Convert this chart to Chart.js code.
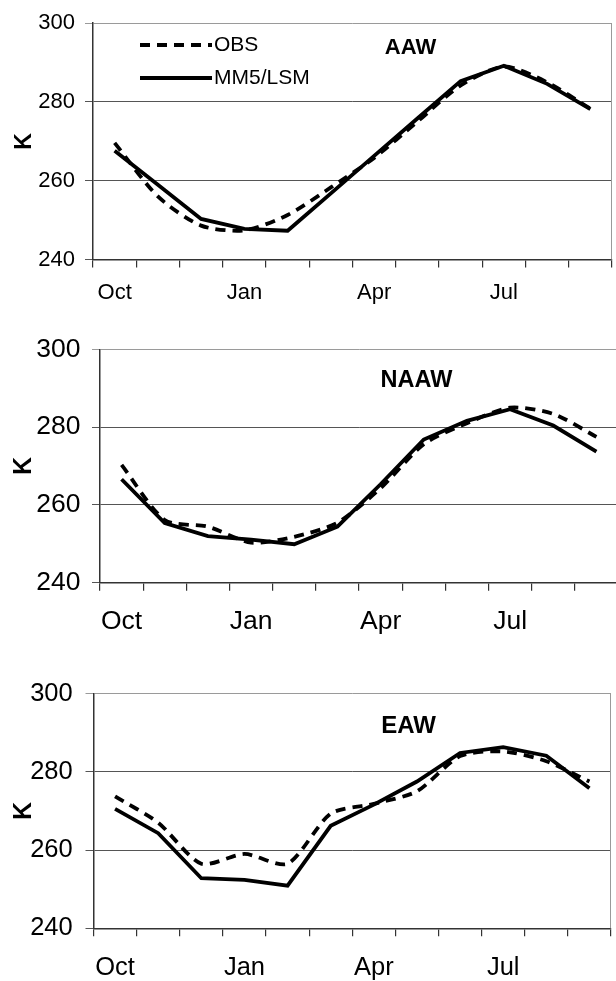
<!DOCTYPE html>
<html>
<head>
<meta charset="utf-8">
<script src="https://cdn.jsdelivr.net/npm/chart.js@4.4.1/dist/chart.umd.min.js"></script>
<style>
  html, body { margin: 0; padding: 0; background: #fff; width: 616px; height: 981px; overflow: hidden; position: relative; }
  canvas { position: absolute; left: 0; }
</style>
</head>
<body>
<canvas id="c1"></canvas>
<canvas id="c2"></canvas>
<canvas id="c3"></canvas>
<script>
// Monthly mean temperature (K), October through September
const months = ['Oct', 'Nov', 'Dec', 'Jan', 'Feb', 'Mar', 'Apr', 'May', 'Jun', 'Jul', 'Aug', 'Sep'];
const labeledMonths = ['Oct', 'Jan', 'Apr', 'Jul'];
const yTicks = [240, 260, 280, 300];
const seriesNames = ['OBS', 'MM5/LSM'];

const aawObs   = [269.6, 256.0, 248.6, 247.4, 251.3, 258.3, 265.8, 275.0, 284.2, 289.0, 285.0, 278.3];
const aawModel = [267.6, 259.0, 250.3, 247.8, 247.3, 256.8, 266.3, 275.8, 285.3, 289.2, 284.6, 278.2];

const naawObs   = [270.3, 256.1, 254.4, 250.3, 251.8, 255.4, 264.3, 275.6, 281.0, 285.0, 283.4, 277.5];
const naawModel = [266.6, 255.3, 252.0, 251.1, 249.9, 254.4, 265.3, 276.8, 281.6, 284.6, 280.4, 273.7];

const eawObs   = [273.7, 267.0, 256.5, 259.0, 256.5, 269.3, 271.8, 275.0, 284.0, 285.2, 282.7, 277.5];
const eawModel = [270.5, 264.3, 252.8, 252.4, 250.9, 266.2, 271.6, 277.5, 284.8, 286.3, 284.1, 275.8];

const FONT = "'Liberation Sans', Arial, Helvetica, sans-serif";

// Per-panel layout: canvas placement, plot box and text sizes
const panels = [
  { id: 'c1', name: 'AAW', obs: aawObs, model: aawModel,
    top: 0, width: 616, height: 320,
    area: { left: 93, right: 612, top: 19.5, bottom: 259.5 },
    tickFont: 22, yPad: 10, xPad: 12, kFont: 23, kPad: 10.5,
    titleFont: 22, titleX: 410.5, titleY: 47.5, legend: true },
  { id: 'c2', name: 'NAAW', obs: naawObs, model: naawModel,
    top: 320, width: 620, height: 340,
    area: { left: 100, right: 618, top: 29.3, bottom: 262.7 },
    tickFont: 26.5, yPad: 11.5, xPad: 15.5, kFont: 25, kPad: 9,
    titleFont: 23.5, titleX: 416.5, titleY: 60.5, legend: false },
  { id: 'c3', name: 'EAW', obs: eawObs, model: eawModel,
    top: 660, width: 616, height: 321,
    area: { left: 93.5, right: 611, top: 33.5, bottom: 268.3 },
    tickFont: 25.5, yPad: 12.8, xPad: 16.5, kFont: 25, kPad: 9,
    titleFont: 24, titleX: 408.6, titleY: 66.5, legend: false }
];

// Plot frame on the right, panel name and the line key
const panelDecor = {
  id: 'panelDecor',
  afterDraw(chart, args, opts) {
    const { ctx, chartArea: a } = chart;
    ctx.save();
    ctx.strokeStyle = '#9a9a9a';
    ctx.lineWidth = 1;
    ctx.beginPath();
    ctx.moveTo(a.right - 0.5, a.top);
    ctx.lineTo(a.right - 0.5, a.bottom);
    ctx.stroke();

    ctx.fillStyle = '#000';
    ctx.textAlign = 'center';
    ctx.textBaseline = 'middle';
    ctx.font = `bold ${opts.titleFont}px ${FONT}`;
    ctx.fillText(opts.title, opts.titleX, opts.titleY);

    if (opts.legend) {
      const rows = [
        { ds: chart.data.datasets[0], y: 45 },
        { ds: chart.data.datasets[1], y: 78 }
      ];
      ctx.textAlign = 'left';
      ctx.font = `21px ${FONT}`;
      rows.forEach(r => {
        ctx.strokeStyle = r.ds.borderColor;
        ctx.lineWidth = r.ds.borderWidth;
        ctx.setLineDash(r.ds.borderDash || []);
        ctx.beginPath();
        ctx.moveTo(140, r.y);
        ctx.lineTo(212, r.y);
        ctx.stroke();
        ctx.setLineDash([]);
        ctx.fillText(r.ds.label, 214, r.y + 0.5);
      });
    }
    ctx.restore();
  }
};

panels.forEach(p => {
  const cv = document.getElementById(p.id);
  cv.width = p.width;
  cv.height = p.height;
  cv.style.top = p.top + 'px';
  cv.style.width = p.width + 'px';
  cv.style.height = p.height + 'px';

  new Chart(cv, {
    type: 'line',
    data: {
      labels: months,
      datasets: [
        { label: seriesNames[0], data: p.obs, borderColor: '#000', borderWidth: 3.8,
          borderDash: [10, 7], tension: 0.25, pointRadius: 0, fill: false, order: 1 },
        { label: seriesNames[1], data: p.model, borderColor: '#000', borderWidth: 3.8,
          tension: 0, pointRadius: 0, fill: false, order: 0 }
      ]
    },
    options: {
      responsive: false,
      animation: false,
      devicePixelRatio: 1,
      layout: { padding: { left: 0, right: p.width - p.area.right, top: p.area.top, bottom: 0 } },
      plugins: {
        legend: { display: false },
        tooltip: { enabled: false },
        panelDecor: { title: p.name, titleFont: p.titleFont, titleX: p.titleX, titleY: p.titleY, legend: p.legend }
      },
      scales: {
        x: {
          type: 'category',
          offset: true,
          grid: { offset: true, drawOnChartArea: false, drawTicks: true, tickLength: 8, color: '#333', lineWidth: 1.2 },
          border: { display: true, color: '#333', width: 1.5 },
          ticks: {
            autoSkip: false, maxRotation: 0, minRotation: 0, padding: p.xPad, color: '#000',
            font: { family: FONT, size: p.tickFont },
            callback: function (value) {
              const m = this.getLabelForValue(value);
              return labeledMonths.includes(m) ? m : '';
            }
          },
          afterFit: s => { s.height = p.height - p.area.bottom; }
        },
        y: {
          min: yTicks[0],
          max: yTicks[yTicks.length - 1],
          afterBuildTicks: s => { s.ticks = yTicks.map(v => ({ value: v })); },
          grid: {
            color: c => (c.tick && c.tick.value === yTicks[yTicks.length - 1]) ? '#9a9a9a' : '#555',
            lineWidth: 1, tickLength: 8, drawTicks: true
          },
          border: { display: true, color: '#333', width: 1.5 },
          ticks: { padding: p.yPad, color: '#000', font: { family: FONT, size: p.tickFont } },
          title: {
            display: true, text: 'K', color: '#000',
            font: { family: FONT, size: p.kFont, weight: 'bold' },
            padding: { top: p.kPad, bottom: 0 }
          },
          afterFit: s => { s.width = p.area.left; }
        }
      }
    },
    plugins: [panelDecor]
  });
});
</script>
</body>
</html>
